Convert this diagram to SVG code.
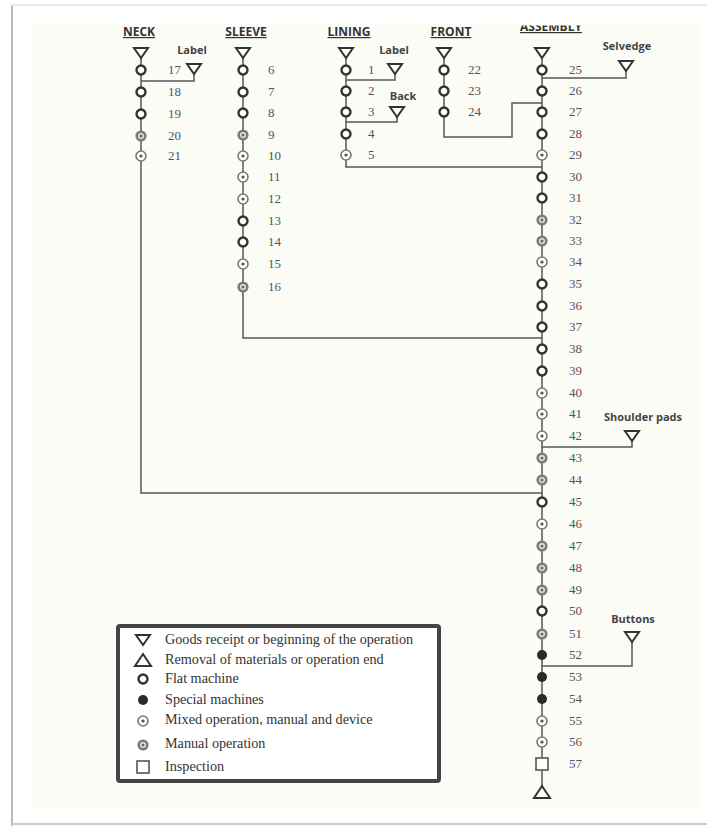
<svg xmlns="http://www.w3.org/2000/svg" width="707" height="826" viewBox="0 0 707 826">
<style>
.hd{font-family:"Open Sans","Liberation Sans",sans-serif;font-weight:bold;font-size:12px;fill:#333;text-decoration:underline;text-anchor:middle}
.lb{font-family:"Open Sans","Liberation Sans",sans-serif;font-weight:bold;font-size:11px;fill:#444;text-anchor:middle}
.num{font-family:"Liberation Serif",serif;font-size:13px;fill:#555}
.lg{font-family:"Liberation Serif",serif;font-size:14.2px;fill:#333}
.ln{fill:none;stroke:#555;stroke-width:1.5}
</style>
<defs>
<g id="flat"><circle r="4.5" fill="#fff" stroke="#333" stroke-width="2.4"/></g>
<g id="mixed"><circle r="5" fill="#fff" stroke="#777" stroke-width="1.6"/><circle r="1.6" fill="#555"/></g>
<g id="manual"><circle r="5.6" fill="#7a7a7a"/><circle r="3" fill="#e4e4e4"/><circle r="1.5" fill="#666"/></g>
<g id="special"><circle r="5" fill="#2a2a2a"/></g>
<g id="insp"><rect x="-6" y="-6" width="12" height="12" fill="#fff" stroke="#555" stroke-width="1.6"/></g>
<g id="tdown"><polygon points="-7,-5 7,-5 0,5" fill="#fff" stroke="#333" stroke-width="2"/></g>
<g id="tup"><polygon points="-8,6 8,6 0,-6" fill="#fff" stroke="#333" stroke-width="2"/></g>
<clipPath id="asmclip"><rect x="500" y="25.5" width="120" height="20"/></clipPath>
</defs>
<rect width="707" height="826" fill="#fff"/>
<rect x="31" y="24" width="670" height="784" fill="#fcfcf7"/>
<line x1="12" y1="5" x2="12" y2="826" stroke="#bbb" stroke-width="2"/>
<line x1="12" y1="5" x2="707" y2="5" stroke="#e8e8e8" stroke-width="2"/>
<line x1="12" y1="824" x2="707" y2="824" stroke="#ccc" stroke-width="2"/>

<g id="connectors">
<path class="ln" d="M141 53 V493 H542"/>
<path class="ln" d="M243 53 V338 H542"/>
<path class="ln" d="M346 53 V167 H542"/>
<path class="ln" d="M444 53 V137 H512 V103 H542"/>
<path class="ln" d="M542 53 V792"/>
<path class="ln" d="M194 69 V81 H141"/>
<path class="ln" d="M395 69 V80 H346"/>
<path class="ln" d="M397 112 V122 H346"/>
<path class="ln" d="M626 66 V78 H542"/>
<path class="ln" d="M632 436 V447 H542"/>
<path class="ln" d="M632 637 V666 H542"/>
</g>

<g id="headers">
<text class="hd" x="139" y="36">NECK</text>
<text class="hd" x="246" y="36">SLEEVE</text>
<text class="hd" x="349" y="36">LINING</text>
<text class="hd" x="451" y="36">FRONT</text>
<text class="hd" x="551" y="31" clip-path="url(#asmclip)">ASSEMBLY</text>
</g>

<g id="labels">
<text class="lb" x="192" y="54">Label</text>
<text class="lb" x="394" y="54">Label</text>
<text class="lb" x="403" y="100">Back</text>
<text class="lb" x="627" y="50">Selvedge</text>
<text class="lb" x="643" y="421">Shoulder pads</text>
<text class="lb" x="633" y="623">Buttons</text>
</g>

<g id="start-triangles">
<use href="#tdown" x="141" y="53"/>
<use href="#tdown" x="243" y="53"/>
<use href="#tdown" x="346" y="53"/>
<use href="#tdown" x="444" y="53"/>
<use href="#tdown" x="542" y="53"/>
<use href="#tdown" x="194" y="69"/>
<use href="#tdown" x="395" y="69"/>
<use href="#tdown" x="397" y="112"/>
<use href="#tdown" x="626" y="66"/>
<use href="#tdown" x="632" y="436"/>
<use href="#tdown" x="632" y="637"/>
</g>

<g id="neck">
<use href="#flat" x="141" y="70"/><text class="num" x="168" y="74">17</text>
<use href="#flat" x="141" y="92"/><text class="num" x="168" y="96">18</text>
<use href="#flat" x="141" y="114"/><text class="num" x="168" y="118">19</text>
<use href="#manual" x="141" y="136"/><text class="num" x="168" y="140">20</text>
<use href="#mixed" x="141" y="156"/><text class="num" x="168" y="160">21</text>
</g>

<g id="sleeve">
<use href="#flat" x="243" y="70"/><text class="num" x="268" y="74">6</text>
<use href="#flat" x="243" y="92"/><text class="num" x="268" y="96">7</text>
<use href="#flat" x="243" y="113"/><text class="num" x="268" y="117">8</text>
<use href="#manual" x="243" y="135"/><text class="num" x="268" y="139">9</text>
<use href="#mixed" x="243" y="156"/><text class="num" x="268" y="160">10</text>
<use href="#mixed" x="243" y="177"/><text class="num" x="268" y="181">11</text>
<use href="#mixed" x="243" y="199"/><text class="num" x="268" y="203">12</text>
<use href="#flat" x="243" y="221"/><text class="num" x="268" y="225">13</text>
<use href="#flat" x="243" y="242"/><text class="num" x="268" y="246">14</text>
<use href="#mixed" x="243" y="264"/><text class="num" x="268" y="268">15</text>
<use href="#manual" x="243" y="287"/><text class="num" x="268" y="291">16</text>
</g>

<g id="lining">
<use href="#flat" x="346" y="70"/><text class="num" x="368" y="74">1</text>
<use href="#flat" x="346" y="91"/><text class="num" x="368" y="95">2</text>
<use href="#flat" x="346" y="112"/><text class="num" x="368" y="116">3</text>
<use href="#flat" x="346" y="134"/><text class="num" x="368" y="138">4</text>
<use href="#mixed" x="346" y="155"/><text class="num" x="368" y="159">5</text>
</g>

<g id="front">
<use href="#flat" x="444" y="70"/><text class="num" x="468" y="74">22</text>
<use href="#flat" x="444" y="91"/><text class="num" x="468" y="95">23</text>
<use href="#flat" x="444" y="112"/><text class="num" x="468" y="116">24</text>
</g>

<g id="assembly">
<use href="#flat" x="542" y="70"/><text class="num" x="569" y="74">25</text>
<use href="#flat" x="542" y="91"/><text class="num" x="569" y="95">26</text>
<use href="#flat" x="542" y="112"/><text class="num" x="569" y="116">27</text>
<use href="#flat" x="542" y="134"/><text class="num" x="569" y="138">28</text>
<use href="#mixed" x="542" y="155"/><text class="num" x="569" y="159">29</text>
<use href="#flat" x="542" y="177"/><text class="num" x="569" y="181">30</text>
<use href="#flat" x="542" y="198"/><text class="num" x="569" y="202">31</text>
<use href="#manual" x="542" y="220"/><text class="num" x="569" y="224">32</text>
<use href="#manual" x="542" y="241"/><text class="num" x="569" y="245">33</text>
<use href="#mixed" x="542" y="262"/><text class="num" x="569" y="266">34</text>
<use href="#flat" x="542" y="284"/><text class="num" x="569" y="288">35</text>
<use href="#flat" x="542" y="306"/><text class="num" x="569" y="310">36</text>
<use href="#flat" x="542" y="327"/><text class="num" x="569" y="331">37</text>
<use href="#flat" x="542" y="349"/><text class="num" x="569" y="353">38</text>
<use href="#flat" x="542" y="371"/><text class="num" x="569" y="375">39</text>
<use href="#mixed" x="542" y="393"/><text class="num" x="569" y="397">40</text>
<use href="#mixed" x="542" y="414"/><text class="num" x="569" y="418">41</text>
<use href="#mixed" x="542" y="436"/><text class="num" x="569" y="440">42</text>
<use href="#manual" x="542" y="458"/><text class="num" x="569" y="462">43</text>
<use href="#manual" x="542" y="480"/><text class="num" x="569" y="484">44</text>
<use href="#flat" x="542" y="502"/><text class="num" x="569" y="506">45</text>
<use href="#mixed" x="542" y="524"/><text class="num" x="569" y="528">46</text>
<use href="#manual" x="542" y="546"/><text class="num" x="569" y="550">47</text>
<use href="#manual" x="542" y="568"/><text class="num" x="569" y="572">48</text>
<use href="#manual" x="542" y="590"/><text class="num" x="569" y="594">49</text>
<use href="#flat" x="542" y="611"/><text class="num" x="569" y="615">50</text>
<use href="#manual" x="542" y="634"/><text class="num" x="569" y="638">51</text>
<use href="#special" x="542" y="655"/><text class="num" x="569" y="659">52</text>
<use href="#special" x="542" y="677"/><text class="num" x="569" y="681">53</text>
<use href="#special" x="542" y="699"/><text class="num" x="569" y="703">54</text>
<use href="#mixed" x="542" y="721"/><text class="num" x="569" y="725">55</text>
<use href="#mixed" x="542" y="742"/><text class="num" x="569" y="746">56</text>
<use href="#insp" x="542" y="764"/><text class="num" x="569" y="768">57</text>
<use href="#tup" x="542" y="792"/>
</g>

<g id="legend">
<rect x="118" y="626" width="321" height="155" rx="2" fill="#fff" stroke="#444" stroke-width="4"/>
<use href="#tdown" x="143" y="640"/><text class="lg" x="165" y="644">Goods receipt or beginning of the operation</text>
<use href="#tup" x="143" y="660"/><text class="lg" x="165" y="664">Removal of materials or operation end</text>
<use href="#flat" x="143" y="679"/><text class="lg" x="165" y="683">Flat machine</text>
<use href="#special" x="143" y="700"/><text class="lg" x="165" y="704">Special machines</text>
<use href="#mixed" x="143" y="721"/><text class="lg" x="165" y="724">Mixed operation, manual and device</text>
<use href="#manual" x="143" y="745"/><text class="lg" x="165" y="748">Manual operation</text>
<use href="#insp" x="143" y="767"/><text class="lg" x="165" y="771">Inspection</text>
</g>
</svg>
